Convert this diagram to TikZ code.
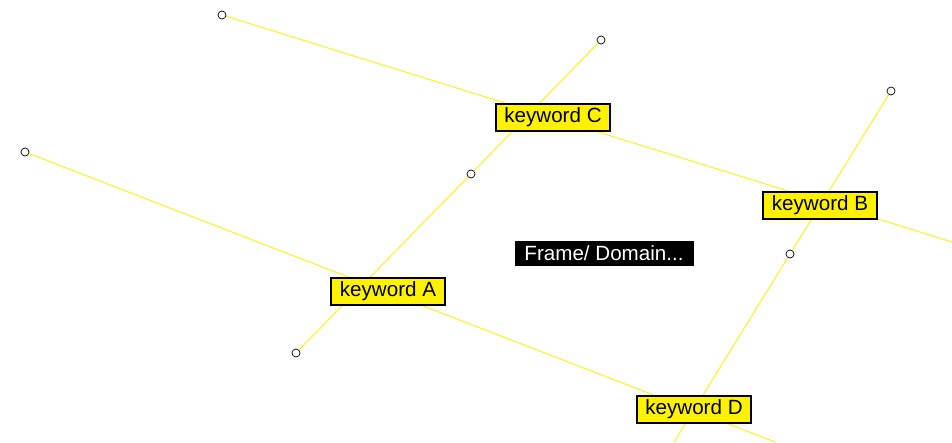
\documentclass[tikz,border=0pt]{standalone}
\usepackage{fontspec}
\setmainfont{Liberation Sans}
\usetikzlibrary{backgrounds,shadows}
\begin{document}
\begin{tikzpicture}[x=1pt,y=-1pt,
  kw/.style={draw=black,line width=1.6pt,fill=yellow,minimum width=114pt,minimum height=27pt,inner sep=0pt,font=\fontsize{20.6}{24}\selectfont,drop shadow={shadow xshift=1.2pt,shadow yshift=-1.2pt,fill=gray!70,opacity=1}},
  dot/.style={circle,draw=black,line width=0.7pt,fill=white,minimum size=8pt,inner sep=0pt},
  link/.style={draw=yellow,line width=0.9pt},
  frame/.style={fill=black,text=white,minimum width=179pt,minimum height=25pt,inner sep=0pt,font=\fontsize{20.6}{24}\selectfont}]
\useasboundingbox (0,0) rectangle (952,442);
\node[dot] (c1) at (222,15) {};
\node[dot] (c2) at (601,40) {};
\node[dot] (c3) at (471,174) {};
\node[dot] (c4) at (296,353) {};
\node[dot] (c5) at (25,152) {};
\node[dot] (c6) at (891,91) {};
\node[dot] (c7) at (790,254) {};
\coordinate (e1) at (952,242);
\coordinate (e3) at (775,442);
\coordinate (e4) at (674,442);
\node[kw] (kC) at (553,117.5) {keyword C};
\node[kw] (kB) at (820,205.5) {keyword B};
\node[kw] (kA) at (388,291.5) {keyword A};
\node[kw] (kD) at (694,409.5) {keyword D};
\node[frame] (fr) at (604,253.5) {Frame/ Domain...};
\begin{scope}[on background layer]
\draw[link] (c1) -- (e1);
\draw[link] (c2) -- (c3) -- (c4);
\draw[link] (c5) -- (e3);
\draw[link] (c6) -- (c7) -- (e4);
\end{scope}
\end{tikzpicture}
\end{document}
